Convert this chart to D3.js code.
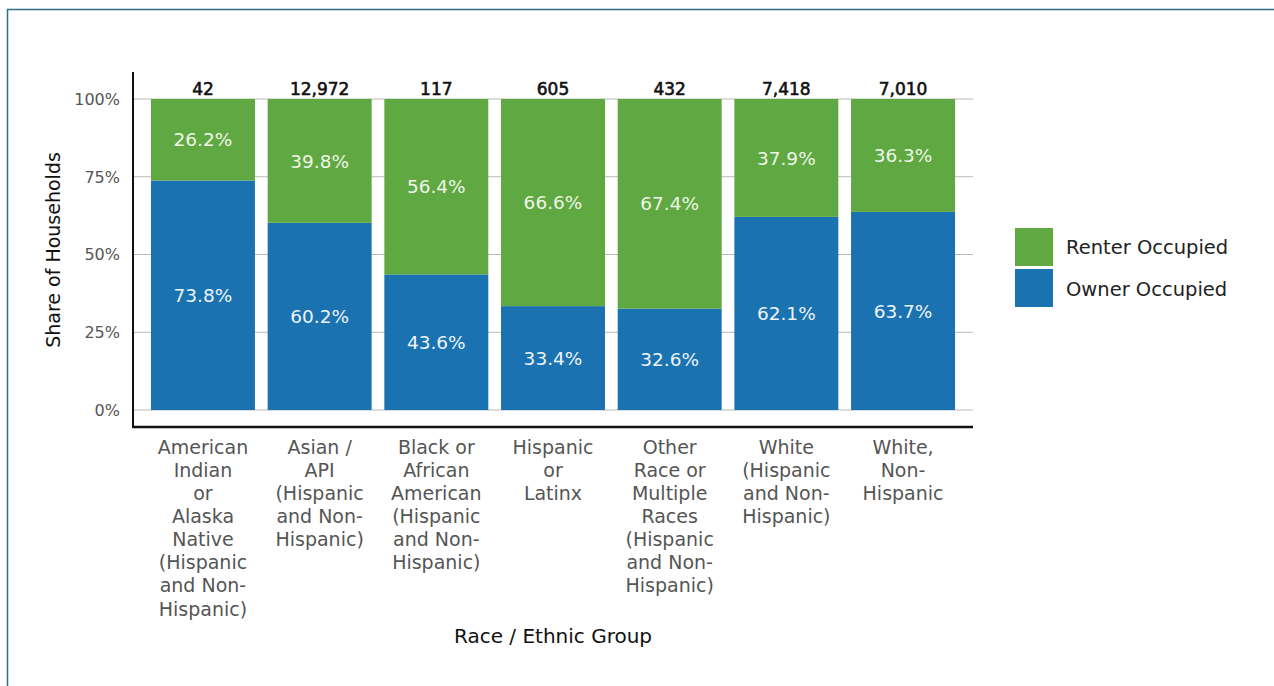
<!DOCTYPE html>
<html><head><meta charset="utf-8">
<script src="https://cdn.jsdelivr.net/npm/d3@7"></script>
<style>
html,body{margin:0;padding:0;background:#fff;}
svg{display:block;font-family:"DejaVu Sans",Verdana,sans-serif;}
</style></head>
<body>
<svg id="chart" width="1274" height="686"></svg>
<script>
const categories = [
  ["American","Indian","or","Alaska","Native","(Hispanic","and Non-","Hispanic)"],
  ["Asian /","API","(Hispanic","and Non-","Hispanic)"],
  ["Black or","African","American","(Hispanic","and Non-","Hispanic)"],
  ["Hispanic","or","Latinx"],
  ["Other","Race or","Multiple","Races","(Hispanic","and Non-","Hispanic)"],
  ["White","(Hispanic","and Non-","Hispanic)"],
  ["White,","Non-","Hispanic"]
];
const ownerValues = [73.8, 60.2, 43.6, 33.4, 32.6, 62.1, 63.7];
const renterValues = [26.2, 39.8, 56.4, 66.6, 67.4, 37.9, 36.3];
const householdCounts = [42, 12972, 117, 605, 432, 7418, 7010];
const yTicks = [0, 25, 50, 75, 100];
const seriesNames = ["Renter Occupied", "Owner Occupied"];

const GREEN = "#60a841", BLUE = "#1a72b0";
const svg = d3.select("#chart");

// border
svg.append("path").attr("d","M7.5,686 L7.5,9.5 L1274,9.5")
  .attr("fill","none").attr("stroke","#2f6d8e").attr("stroke-width",1.5);

const x = d3.scaleBand().domain(d3.range(categories.length)).range([135, 971])
  .paddingInner(0.109).paddingOuter(0.137);
const y = d3.scaleLinear().domain([0, 100]).range([410, 99]);

// gridlines
svg.append("g").selectAll("line").data(yTicks).join("line")
  .attr("x1",133).attr("x2",973).attr("y1",d=>y(d)).attr("y2",d=>y(d))
  .attr("stroke","#b8b8b8").attr("stroke-width",1);

// y tick labels
svg.append("g").selectAll("text").data(yTicks).join("text")
  .attr("x",120).attr("y",d=>y(d)).attr("dy","0.36em").attr("text-anchor","end")
  .attr("font-size",16).attr("fill","#555").text(d=>d+"%");

// bars
const idx = d3.range(categories.length);
svg.append("g").selectAll("rect").data(idx).join("rect")
  .attr("x",i=>x(i)).attr("width",x.bandwidth())
  .attr("y",i=>y(ownerValues[i])).attr("height",i=>y(0)-y(ownerValues[i]))
  .attr("fill",BLUE);
svg.append("g").selectAll("rect").data(idx).join("rect")
  .attr("x",i=>x(i)).attr("width",x.bandwidth())
  .attr("y",i=>y(ownerValues[i]+renterValues[i])).attr("height",i=>y(ownerValues[i])-y(ownerValues[i]+renterValues[i]))
  .attr("fill",GREEN);

// value labels
svg.append("g").selectAll("text").data(idx).join("text")
  .attr("x",i=>x(i)+x.bandwidth()/2).attr("y",i=>y(ownerValues[i]/2)).attr("dy","0.36em")
  .attr("text-anchor","middle").attr("font-size",18.5).attr("fill","#eef4fa")
  .text(i=>ownerValues[i].toFixed(1)+"%");
svg.append("g").selectAll("text").data(idx).join("text")
  .attr("x",i=>x(i)+x.bandwidth()/2).attr("y",i=>y(ownerValues[i]+renterValues[i]/2)).attr("dy","0.36em")
  .attr("text-anchor","middle").attr("font-size",18.5).attr("fill","#eef7e8")
  .text(i=>renterValues[i].toFixed(1)+"%");

// counts
svg.append("g").selectAll("text").data(idx).join("text")
  .attr("x",i=>x(i)+x.bandwidth()/2).attr("y",95)
  .attr("text-anchor","middle").attr("font-size",17).attr("fill","#111")
  .attr("stroke","#111").attr("stroke-width",0.6)
  .text(i=>d3.format(",")(householdCounts[i]));

// axes lines
svg.append("line").attr("x1",133).attr("x2",133).attr("y1",72).attr("y2",428)
  .attr("stroke","#111").attr("stroke-width",2);
svg.append("line").attr("x1",132).attr("x2",973).attr("y1",427).attr("y2",427)
  .attr("stroke","#111").attr("stroke-width",2.5);

// category labels
const cl = svg.append("g").selectAll("text").data(idx).join("text")
  .attr("text-anchor","middle").attr("font-size",19).attr("fill","#555");
cl.each(function(i){
  const t = d3.select(this);
  categories[i].forEach((line,k)=>{
    t.append("tspan").attr("x",x(i)+x.bandwidth()/2).attr("y",447+k*23.1).attr("dy","0.36em").text(line);
  });
});

// axis titles
svg.append("text").attr("x",553).attr("y",636).attr("dy","0.36em").attr("text-anchor","middle")
  .attr("font-size",20).attr("fill","#111").text("Race / Ethnic Group");
svg.append("text").attr("transform","translate(53,250) rotate(-90)").attr("dy","0.36em")
  .attr("text-anchor","middle").attr("font-size",19).attr("fill","#111").text("Share of Households");

// legend
const legColors = [GREEN, BLUE];
const lg = svg.append("g");
lg.selectAll("rect").data(seriesNames).join("rect")
  .attr("x",1015).attr("y",(d,i)=>228+i*41).attr("width",38).attr("height",38)
  .attr("fill",(d,i)=>legColors[i]);
lg.selectAll("text").data(seriesNames).join("text")
  .attr("x",1066).attr("y",(d,i)=>247+i*42).attr("dy","0.36em")
  .attr("font-size",19.5).attr("fill","#222").text(d=>d);
</script>
</body></html>
